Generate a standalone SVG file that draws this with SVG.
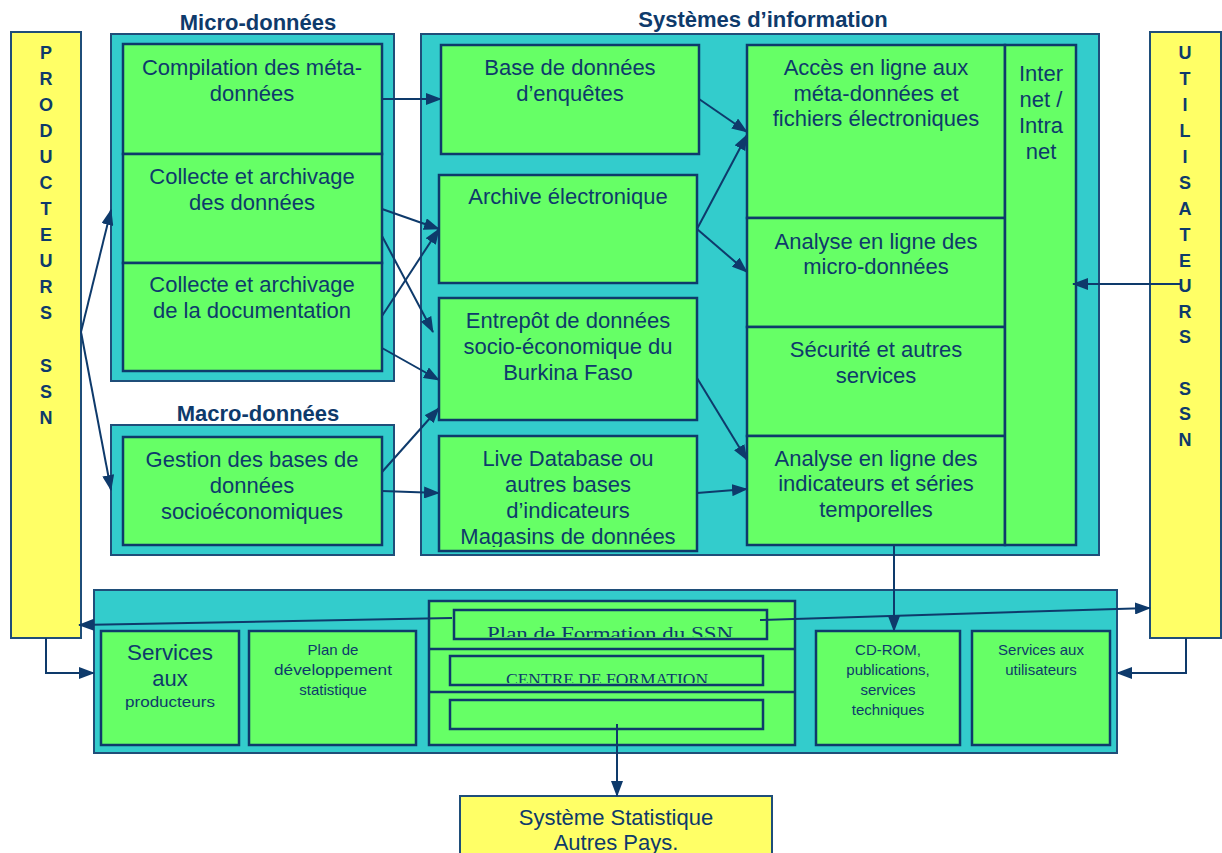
<svg xmlns="http://www.w3.org/2000/svg" width="1222" height="853" viewBox="0 0 1222 853">
<defs>
<marker id="ah" markerWidth="16" markerHeight="12" refX="15" refY="6" orient="auto" markerUnits="userSpaceOnUse">
<path d="M0,0 L16,6 L0,12 Z" fill="#0E3A6B"/>
</marker>
<clipPath id="cPlan"><rect x="455" y="611" width="311" height="26"/></clipPath>
<clipPath id="cCentre"><rect x="451" y="657" width="311" height="26"/></clipPath>
<clipPath id="cLive"><rect x="440" y="437" width="256" height="110"/></clipPath>
</defs>
<style>
.teal{fill:#33CCCC;stroke:#1F4E79;stroke-width:2}
.green{fill:#66FF66;stroke:#0E3A6B;stroke-width:2.5}
.yellow{fill:#FFFF66;stroke:#1F4E79;stroke-width:2}
.t{font-family:"Liberation Sans",Arial,sans-serif;font-size:22px;fill:#0E3A6B;text-anchor:middle}
.s{font-family:"Liberation Sans",Arial,sans-serif;font-size:15px;fill:#0E3A6B;text-anchor:middle}
.b{font-family:"Liberation Sans",Arial,sans-serif;font-size:22px;font-weight:bold;fill:#0E3A6B;text-anchor:middle}
.v{font-family:"Liberation Sans",Arial,sans-serif;font-size:18px;font-weight:bold;fill:#0E3A6B;text-anchor:middle}
.serif{font-family:"Liberation Serif","Times New Roman",serif;fill:#0E3A6B;text-anchor:middle}
.c{fill:none;stroke:#0E3A6B;stroke-width:2;marker-end:url(#ah)}
</style>
<rect width="1222" height="853" fill="#FFFFFF"/>

<g id="producteurs">
<rect class="yellow" x="11" y="32" width="70" height="606"/>
<text class="v" x="46" y="59">P</text>
<text class="v" x="46" y="85">R</text>
<text class="v" x="46" y="111">O</text>
<text class="v" x="46" y="137">D</text>
<text class="v" x="46" y="163">U</text>
<text class="v" x="46" y="189">C</text>
<text class="v" x="46" y="215">T</text>
<text class="v" x="46" y="241">E</text>
<text class="v" x="46" y="267">U</text>
<text class="v" x="46" y="293">R</text>
<text class="v" x="46" y="319">S</text>
<text class="v" x="46" y="372">S</text>
<text class="v" x="46" y="398">S</text>
<text class="v" x="46" y="424">N</text>
</g>

<g id="utilisateurs">
<rect class="yellow" x="1150" y="32" width="71" height="606"/>
<text class="v" x="1185" y="59">U</text>
<text class="v" x="1185" y="85">T</text>
<text class="v" x="1185" y="111">I</text>
<text class="v" x="1185" y="137">L</text>
<text class="v" x="1185" y="163">I</text>
<text class="v" x="1185" y="189">S</text>
<text class="v" x="1185" y="215">A</text>
<text class="v" x="1185" y="241">T</text>
<text class="v" x="1185" y="267">E</text>
<text class="v" x="1185" y="292">U</text>
<text class="v" x="1185" y="318">R</text>
<text class="v" x="1185" y="343">S</text>
<text class="v" x="1185" y="395">S</text>
<text class="v" x="1185" y="420">S</text>
<text class="v" x="1185" y="446">N</text>
</g>

<g id="micro">
<text class="b" x="258" y="30">Micro-données</text>
<rect class="teal" x="111" y="34" width="283" height="347"/>
</g>
<g id="compilation">
<rect class="green" x="123" y="44" width="259" height="110"/>
<text class="t" x="252" y="75">Compilation des méta-</text>
<text class="t" x="252" y="101">données</text>
</g>
<g id="collecte-donnees">
<rect class="green" x="123" y="154" width="259" height="109"/>
<text class="t" x="252" y="184">Collecte et archivage</text>
<text class="t" x="252" y="210">des données</text>
</g>
<g id="collecte-doc">
<rect class="green" x="123" y="263" width="259" height="108"/>
<text class="t" x="252" y="292">Collecte et archivage</text>
<text class="t" x="252" y="318">de la documentation</text>
</g>

<g id="macro">
<text class="b" x="258" y="421">Macro-données</text>
<rect class="teal" x="111" y="425" width="283" height="130"/>
</g>
<g id="gestion">
<rect class="green" x="123" y="437" width="259" height="108"/>
<text class="t" x="252" y="467">Gestion des bases de</text>
<text class="t" x="252" y="493">données</text>
<text class="t" x="252" y="519">socioéconomiques</text>
</g>

<g id="systemes">
<text class="b" x="763" y="27">Systèmes d’information</text>
<rect class="teal" x="421" y="34" width="678" height="521"/>
</g>
<g id="base-enquetes">
<rect class="green" x="441" y="45" width="258" height="109"/>
<text class="t" x="570" y="75">Base de données</text>
<text class="t" x="570" y="101">d’enquêtes</text>
</g>
<g id="archive">
<rect class="green" x="439" y="175" width="258" height="108"/>
<text class="t" x="568" y="204">Archive électronique</text>
</g>
<g id="entrepot">
<rect class="green" x="439" y="298" width="258" height="122"/>
<text class="t" x="568" y="328">Entrepôt de données</text>
<text class="t" x="568" y="354">socio-économique du</text>
<text class="t" x="568" y="380">Burkina Faso</text>
</g>
<g id="live">
<rect class="green" x="439" y="436" width="258" height="115"/>
<g clip-path="url(#cLive)">
<text class="t" x="568" y="466">Live Database ou</text>
<text class="t" x="568" y="492">autres bases</text>
<text class="t" x="568" y="518">d’indicateurs</text>
<text class="t" x="568" y="544">Magasins de données</text>
</g>
</g>
<g id="acces">
<rect class="green" x="747" y="45" width="258" height="173"/>
<text class="t" x="876" y="75">Accès en ligne aux</text>
<text class="t" x="876" y="101">méta-données et</text>
<text class="t" x="876" y="126">fichiers électroniques</text>
</g>
<g id="analyse-micro">
<rect class="green" x="747" y="218" width="258" height="109"/>
<text class="t" x="876" y="249">Analyse en ligne des</text>
<text class="t" x="876" y="274">micro-données</text>
</g>
<g id="securite">
<rect class="green" x="747" y="327" width="258" height="109"/>
<text class="t" x="876" y="357">Sécurité et autres</text>
<text class="t" x="876" y="383">services</text>
</g>
<g id="analyse-indicateurs">
<rect class="green" x="747" y="436" width="258" height="109"/>
<text class="t" x="876" y="466">Analyse en ligne des</text>
<text class="t" x="876" y="491">indicateurs et séries</text>
<text class="t" x="876" y="517">temporelles</text>
</g>
<g id="internet">
<rect class="green" x="1005" y="45" width="71" height="500"/>
<text class="t" x="1041" y="81">Inter</text>
<text class="t" x="1041" y="107">net /</text>
<text class="t" x="1041" y="133">Intra</text>
<text class="t" x="1041" y="159">net</text>
</g>

<g id="bande">
<rect class="teal" x="94" y="590" width="1023" height="163"/>
</g>
<g id="services-producteurs">
<rect class="green" x="101" y="631" width="138" height="114"/>
<text class="t" x="170" y="660" textLength="86" lengthAdjust="spacingAndGlyphs">Services</text>
<text class="t" x="170" y="686">aux</text>
<text class="s" x="170" y="707" textLength="90" lengthAdjust="spacingAndGlyphs">producteurs</text>
</g>
<g id="plan-dev">
<rect class="green" x="249" y="631" width="167" height="114"/>
<text class="s" x="333" y="655">Plan de</text>
<text class="s" x="333" y="675" textLength="118" lengthAdjust="spacingAndGlyphs">développement</text>
<text class="s" x="333" y="695">statistique</text>
</g>
<g id="formation">
<rect class="green" x="429" y="601" width="366" height="144"/>
<line x1="429" y1="649" x2="795" y2="649" stroke="#0E3A6B" stroke-width="2.5"/>
<line x1="429" y1="692" x2="795" y2="692" stroke="#0E3A6B" stroke-width="2.5"/>
</g>
<g id="plan-formation">
<rect class="green" x="454" y="610" width="313" height="29"/>
<text class="serif" x="610" y="640" font-size="19" textLength="246" lengthAdjust="spacingAndGlyphs" clip-path="url(#cPlan)">Plan  de Formation du SSN</text>
</g>
<g id="centre-formation">
<rect class="green" x="450" y="656" width="313" height="29"/>
<text class="serif" x="607" y="685" font-size="16" textLength="202" lengthAdjust="spacingAndGlyphs" clip-path="url(#cCentre)">CENTRE DE FORMATION</text>
</g>
<g id="vide">
<rect class="green" x="450" y="700" width="313" height="29"/>
</g>
<g id="cdrom">
<rect class="green" x="816" y="631" width="144" height="114"/>
<text class="s" x="888" y="655">CD-ROM,</text>
<text class="s" x="888" y="675">publications,</text>
<text class="s" x="888" y="695">services</text>
<text class="s" x="888" y="715">techniques</text>
</g>
<g id="services-utilisateurs">
<rect class="green" x="972" y="631" width="138" height="114"/>
<text class="s" x="1041" y="655">Services aux</text>
<text class="s" x="1041" y="675">utilisateurs</text>
</g>

<g id="autres-pays">
<rect class="yellow" x="460" y="796" width="312" height="70"/>
<text class="t" x="616" y="825" font-size="20">Système Statistique</text>
<text class="t" x="616" y="850" font-size="20">Autres Pays.</text>
</g>

<g id="connectors">
<line class="c" x1="382" y1="99" x2="441" y2="99"/>
<line class="c" x1="382" y1="209" x2="439" y2="229"/>
<line class="c" x1="382" y1="236" x2="433" y2="332"/>
<line class="c" x1="382" y1="316" x2="439" y2="229"/>
<line class="c" x1="382" y1="348" x2="439" y2="380"/>
<line class="c" x1="382" y1="472" x2="439" y2="408"/>
<line class="c" x1="382" y1="491" x2="439" y2="493"/>
<line class="c" x1="699" y1="99" x2="747" y2="132"/>
<line class="c" x1="697" y1="229" x2="747" y2="135"/>
<line class="c" x1="697" y1="229" x2="747" y2="272"/>
<line class="c" x1="697" y1="378" x2="747" y2="460"/>
<line class="c" x1="697" y1="493" x2="747" y2="489"/>
<line class="c" x1="1182" y1="284" x2="1073" y2="284"/>
<line class="c" x1="81" y1="332" x2="111" y2="210"/>
<line class="c" x1="81" y1="332" x2="111" y2="490"/>
<line class="c" x1="894" y1="545" x2="894" y2="631"/>
<line class="c" x1="452" y1="618" x2="79" y2="625"/>
<line class="c" x1="760" y1="620" x2="1150" y2="608"/>
<polyline class="c" points="46,638 46,673 94,673"/>
<polyline class="c" points="1186,638 1186,673 1117,673"/>
<line class="c" x1="617" y1="724" x2="617" y2="796"/>
</g>
</svg>
